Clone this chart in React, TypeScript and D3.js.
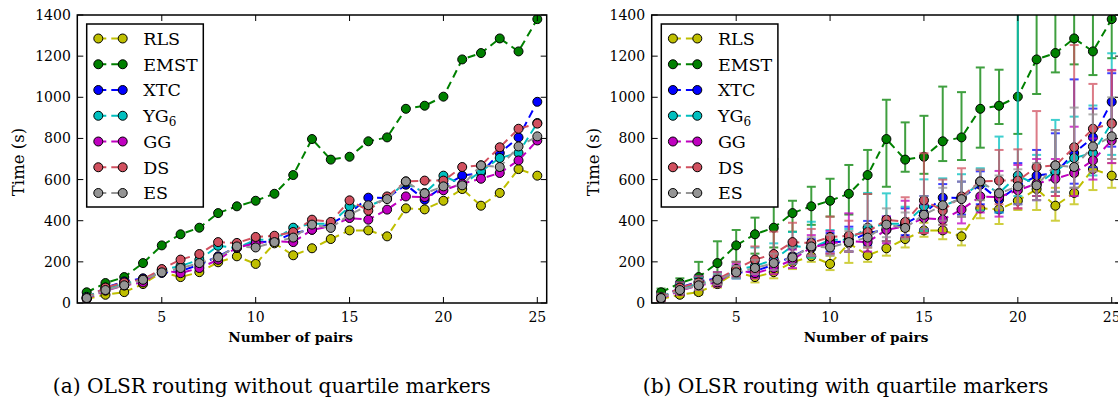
import React from 'react';
import * as d3 from 'd3';

// Number of source/destination pairs on the x axis
const pairs = [1, 2, 3, 4, 5, 6, 7, 8, 9, 10, 11, 12, 13, 14, 15, 16, 17, 18, 19, 20, 21, 22, 23, 24, 25];
const xTicks = [5, 10, 15, 20, 25];
const yTicks = [0, 200, 400, 600, 800, 1000, 1200, 1400];

const seriesNames = ['RLS', 'EMST', 'XTC', 'YG6', 'GG', 'DS', 'ES'];
const seriesColors = ['#bfbf00', '#008000', '#0000ff', '#00bfbf', '#bf00bf', '#d1505f', '#959595'];

// Median time (s) per number of pairs
const rlsTime = [20, 40, 53, 92, 150, 126, 150, 198, 227, 190, 290, 232, 266, 311, 353, 353, 324, 460, 455, 497, 554, 473, 535, 651, 619];
const emstTime = [52, 97, 126, 194, 280, 334, 366, 437, 470, 497, 531, 622, 797, 697, 711, 786, 805, 944, 959, 1003, 1184, 1215, 1286, 1223, 1380];
const xtcTime = [25, 75, 105, 120, 146, 155, 186, 227, 272, 295, 300, 340, 356, 385, 437, 512, 510, 575, 502, 567, 619, 632, 729, 805, 978];
const yg6Time = [30, 70, 95, 110, 160, 180, 210, 278, 267, 308, 308, 366, 385, 385, 470, 470, 510, 586, 535, 619, 575, 640, 705, 729, 875];
const ggTime = [20, 60, 85, 100, 160, 145, 170, 210, 270, 290, 300, 296, 356, 373, 413, 405, 454, 518, 515, 548, 580, 604, 632, 693, 790];
const dsTime = [25, 75, 100, 115, 165, 211, 238, 296, 292, 321, 327, 345, 405, 394, 499, 449, 518, 591, 595, 595, 661, 669, 757, 847, 872];
const esTime = [24, 63, 86, 113, 149, 170, 194, 222, 275, 270, 296, 318, 381, 365, 429, 475, 505, 591, 533, 567, 572, 669, 661, 761, 810];

// Lower / upper quartiles
const rlsLow = [10, 30, 40, 75, 125, 100, 120, 165, 200, 160, 195, 200, 230, 270, 322, 310, 280, 412, 384, 452, 452, 400, 480, 549, 560];
const rlsHigh = [30, 55, 70, 110, 175, 150, 180, 240, 260, 230, 300, 270, 300, 350, 390, 400, 360, 500, 520, 540, 600, 560, 620, 700, 680];
const emstLow = [30, 70, 90, 115, 200, 240, 270, 347, 380, 420, 430, 530, 565, 638, 628, 690, 695, 755, 870, 822, 1016, 1121, 1160, 1108, 1190];
const emstHigh = [70, 120, 200, 300, 355, 415, 700, 497, 565, 604, 671, 744, 988, 878, 910, 1052, 1025, 1145, 1134, 1550, 1550, 1550, 1550, 1550, 1550];
const xtcLow = [15, 55, 80, 95, 120, 130, 160, 190, 230, 250, 250, 280, 300, 330, 360, 410, 430, 480, 440, 480, 520, 540, 580, 660, 760];
const xtcHigh = [40, 100, 130, 150, 180, 200, 240, 290, 310, 340, 371, 399, 420, 460, 520, 578, 590, 640, 600, 680, 744, 825, 1087, 945, 1117];
const yg6Low = [20, 50, 75, 90, 120, 140, 170, 210, 220, 240, 250, 290, 300, 320, 350, 380, 420, 450, 440, 520, 500, 540, 560, 620, 720];
const yg6High = [45, 95, 125, 140, 200, 270, 290, 345, 395, 355, 360, 535, 533, 468, 601, 606, 626, 655, 809, 1550, 720, 890, 906, 960, 1214];
const ggLow = [10, 40, 65, 80, 130, 120, 140, 170, 230, 240, 250, 250, 290, 320, 340, 340, 387, 440, 420, 460, 500, 520, 520, 600, 680];
const ggHigh = [35, 85, 110, 130, 190, 180, 210, 260, 330, 350, 436, 350, 420, 497, 480, 470, 520, 580, 642, 671, 700, 700, 857, 800, 1133];
const dsLow = [15, 50, 70, 90, 130, 150, 180, 220, 230, 240, 250, 270, 300, 320, 340, 380, 420, 470, 480, 460, 520, 520, 560, 640, 700];
const dsHigh = [45, 100, 130, 150, 200, 275, 347, 390, 360, 420, 400, 530, 412, 514, 728, 600, 655, 647, 744, 747, 933, 841, 1254, 1065, 1130];
const esLow = [15, 45, 65, 90, 120, 140, 160, 190, 230, 230, 250, 270, 320, 310, 360, 400, 420, 500, 460, 480, 500, 540, 560, 640, 700];
const esHigh = [35, 80, 110, 140, 180, 210, 240, 270, 320, 330, 350, 380, 460, 440, 520, 560, 590, 650, 620, 650, 680, 840, 950, 917, 1000];

const seriesTime = [rlsTime, emstTime, xtcTime, yg6Time, ggTime, dsTime, esTime];
const seriesLow = [rlsLow, emstLow, xtcLow, yg6Low, ggLow, dsLow, esLow];
const seriesHigh = [rlsHigh, emstHigh, xtcHigh, yg6High, ggHigh, dsHigh, esHigh];

const FONT = 'DejaVu Serif';
const TOP = 15;
const BOTTOM = 303;
const DASH = '8,5';
const R = 4.5;

type PanelProps = {
  left: number;
  right: number;
  withBars: boolean;
  clipId: string;
  caption: string;
  captionX: number;
  xLabelX: number;
  yLabelX: number;
  legendX: number;
};

function LegendLabel({ name }: { name: string }) {
  if (name === 'YG6') {
    return (
      <>
        YG<tspan dy={4} fontSize={12}>6</tspan>
      </>
    );
  }
  return <>{name}</>;
}

function Panel(p: PanelProps) {
  const x = d3.scaleLinear().domain([0.5, 25.5]).range([p.left, p.right]);
  const y = d3.scaleLinear().domain([0, 1400]).range([BOTTOM, TOP]);
  const line = d3
    .line<number>()
    .x((_, i) => x(pairs[i]))
    .y((d) => y(d));

  const legendW = 116.6;
  const legendTop = 24;
  const legendH = 183;
  const rowStep = 25.75;
  const firstRow = 38.5;

  return (
    <g>
      <defs>
        <clipPath id={p.clipId}>
          <rect x={p.left} y={TOP} width={p.right - p.left} height={BOTTOM - TOP} />
        </clipPath>
      </defs>

      <g clipPath={`url(#${p.clipId})`}>
        {seriesNames.map((name, si) => {
          const color = seriesColors[si];
          const vals = seriesTime[si];
          return (
            <g key={name}>
              {p.withBars &&
                pairs.map((px, i) => {
                  const cx = x(px);
                  const y0 = y(seriesLow[si][i]);
                  const y1 = y(seriesHigh[si][i]);
                  return (
                    <g key={i} stroke={color} strokeWidth={2} opacity={0.75}>
                      <line x1={cx} x2={cx} y1={y0} y2={y1} />
                      <line x1={cx - 4.5} x2={cx + 4.5} y1={y0} y2={y0} />
                      <line x1={cx - 4.5} x2={cx + 4.5} y1={y1} y2={y1} />
                    </g>
                  );
                })}
              <path d={line(vals) ?? ''} fill="none" stroke={color} strokeWidth={2} strokeDasharray={DASH} />
              {vals.map((v, i) => (
                <circle key={i} cx={x(pairs[i])} cy={y(v)} r={R} fill={color} stroke="#000" strokeWidth={1} />
              ))}
            </g>
          );
        })}
      </g>

      {/* axis frame */}
      <rect x={p.left} y={TOP} width={p.right - p.left} height={BOTTOM - TOP} fill="none" stroke="#000" strokeWidth={1.5} />

      {/* ticks, pointing inward on all four sides */}
      {xTicks.map((t) => (
        <g key={t} stroke="#000" strokeWidth={1}>
          <line x1={x(t)} x2={x(t)} y1={BOTTOM} y2={BOTTOM - 6} />
          <line x1={x(t)} x2={x(t)} y1={TOP} y2={TOP + 6} />
        </g>
      ))}
      {yTicks.map((t) => (
        <g key={t} stroke="#000" strokeWidth={1}>
          <line x1={p.left} x2={p.left + 6} y1={y(t)} y2={y(t)} />
          <line x1={p.right} x2={p.right - 6} y1={y(t)} y2={y(t)} />
        </g>
      ))}

      {/* tick labels */}
      {xTicks.map((t) => (
        <text key={t} x={x(t)} y={322} textAnchor="middle" fontFamily={FONT} fontSize={14} fill="#000">
          {t}
        </text>
      ))}
      {yTicks.map((t) => (
        <text key={t} x={p.left - 6.5} y={y(t) + 5} textAnchor="end" fontFamily={FONT} fontSize={14} fill="#000">
          {t}
        </text>
      ))}

      {/* axis titles */}
      <text x={p.xLabelX} y={342} textAnchor="middle" fontFamily={FONT} fontWeight="bold" fontSize={13.6} fill="#000">
        Number of pairs
      </text>
      <text
        transform={`translate(${p.yLabelX},162) rotate(-90)`}
        textAnchor="middle"
        dominantBaseline="central"
        fontFamily={FONT}
        fontSize={16.5}
        fill="#000"
      >
        Time (s)
      </text>

      {/* legend */}
      <rect x={p.legendX} y={legendTop} width={legendW} height={legendH} fill="#fff" stroke="#000" strokeWidth={1.5} />
      {seriesNames.map((name, si) => {
        const cy = firstRow + si * rowStep;
        const m1 = p.legendX + 11.6;
        const m2 = p.legendX + 36;
        const color = seriesColors[si];
        return (
          <g key={name}>
            <line x1={m1} x2={m2} y1={cy} y2={cy} stroke={color} strokeWidth={2} strokeDasharray={DASH} />
            <circle cx={m1} cy={cy} r={R} fill={color} stroke="#000" strokeWidth={1} />
            <circle cx={m2} cy={cy} r={R} fill={color} stroke="#000" strokeWidth={1} />
            <text x={p.legendX + 56.6} y={cy + 6.3} fontFamily={FONT} fontSize={17.5} fill="#000">
              <LegendLabel name={name} />
            </text>
          </g>
        );
      })}

      {/* sub-figure caption */}
      <text x={p.captionX} y={393} textAnchor="middle" fontFamily={FONT} fontSize={20.2} fill="#000">
        {p.caption}
      </text>
    </g>
  );
}

export default function App() {
  return (
    <svg
      width={1118}
      height={403}
      viewBox="0 0 1118 403"
      style={{ position: 'absolute', left: 0, top: 0, background: '#fff' }}
    >
      <rect x={0} y={0} width={1118} height={403} fill="#fff" />
      <Panel
        left={77.3}
        right={546.7}
        withBars={false}
        clipId="clip-a"
        caption="(a) OLSR routing without quartile markers"
        captionX={271.7}
        xLabelX={290.6}
        yLabelX={18}
        legendX={86.7}
      />
      <Panel
        left={651.7}
        right={1121.1}
        withBars={true}
        clipId="clip-b"
        caption="(b) OLSR routing with quartile markers"
        captionX={845.5}
        xLabelX={866}
        yLabelX={593}
        legendX={661.3}
      />
    </svg>
  );
}
